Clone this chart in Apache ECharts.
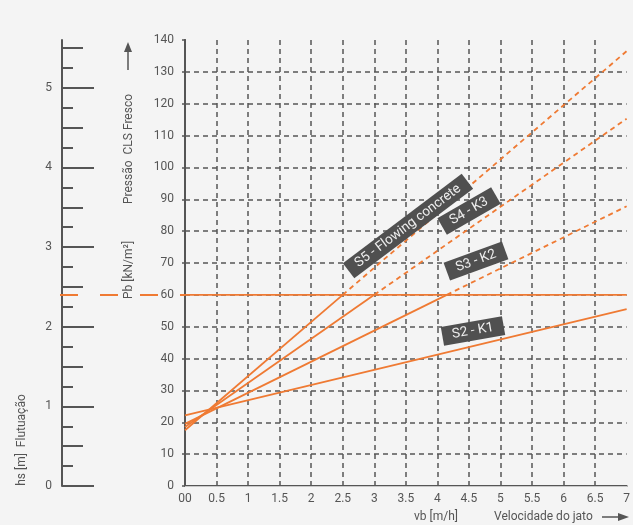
<!DOCTYPE html>
<html><head><meta charset="utf-8">
<script src="https://cdn.jsdelivr.net/npm/echarts@6/dist/echarts.min.js"></script>
<style>html,body{margin:0;padding:0;background:#f4f4f4}#c{width:633px;height:525px}</style>
</head><body><div id="c"></div>
<script>
// ---- data ----
const xTickLabels = ['00','0.5','1','1.5','2','2.5','3','3.5','4','4.5','5','5.5','6','6.5','7'];
const hsMajor = [0, 1, 2, 3, 4, 5];
const hsMedium = [0.5, 1.5, 2.5, 3.5, 4.5, 5.5];
const hsMinor = [0.25, 0.75, 1.25, 1.75, 2.25, 2.75, 3.25, 3.75, 4.25, 4.75, 5.25];
const hsLevel = 2.4;
const pbLimit = [[0, 60], [7, 60]];
const s2K1Solid = [[0, 22.2], [7, 55.5]];
const s3K2Solid = [[0, 19.5], [4.15, 60]];
const s3K2Dashed = [[4.15, 60], [7, 87.8]];
const s4K3Solid = [[0, 18.5], [3.0, 60]];
const s4K3Dashed = [[3.0, 60], [7, 115.3]];
const s5Solid = [[0, 17.5], [2.5, 60]];
const s5Dashed = [[2.5, 60], [7, 136.5]];
const lineLabels = ['S5 - Flowing concrete', 'S4 - K3', 'S3 - K2', 'S2 - K1'];

// ---- styles ----
const ORANGE = '#ef7a33';
const GRAY = '#555555';
const FONT = 'Roboto, "DejaVu Sans", sans-serif';

const chart = echarts.init(document.getElementById('c'));

function seg(name, data, dashed) {
  return {
    name, type: 'line', data, xAxisIndex: 0, yAxisIndex: 0,
    symbol: 'none', silent: true, z: 5,
    lineStyle: { color: ORANGE, width: 1.8, type: dashed ? [5, 4] : 'solid' }
  };
}

function hsAxis(ticks, len, labels) {
  return {
    type: 'value', gridIndex: 1, position: 'left', offset: -2,
    min: 0, max: 5.6, interval: 0.25,
    axisLine: { show: !!labels, lineStyle: { color: GRAY, width: 2 } },
    axisTick: { show: true, inside: true, length: len, customValues: ticks,
      lineStyle: { color: GRAY, width: 2 } },
    axisLabel: labels ? { show: true, customValues: ticks, margin: 10,
      color: GRAY, fontSize: 12, fontFamily: FONT } : { show: false },
    splitLine: { show: false }
  };
}

function rotText(text, x, y, deg, extra) {
  return Object.assign({
    type: 'text', x, y, rotation: deg * Math.PI / 180, silent: true,
    style: { text, fill: GRAY, font: '12px ' + FONT, align: 'center', verticalAlign: 'middle' }
  }, extra || {});
}

function boxLabel(text, x, y, deg) {
  return {
    type: 'text', x, y, rotation: deg * Math.PI / 180, silent: true, z: 20,
    style: { text, fill: '#eeeeee', font: '13.5px ' + FONT, align: 'center', verticalAlign: 'middle',
      backgroundColor: '#505050', padding: [3, 10, 2, 10] }
  };
}

const option = {
  backgroundColor: '#f4f4f4',
  animation: false,
  grid: [
    { left: 185, right: 2, top: 40, bottom: 39 },
    { left: 60, width: 125, top: 40, bottom: 39 }
  ],
  xAxis: [
    { type: 'value', gridIndex: 0, min: 0, max: 7, interval: 0.5,
      axisLine: { onZero: false, lineStyle: { color: GRAY, width: 2 } },
      axisTick: { show: false },
      axisLabel: { color: GRAY, fontSize: 12, fontFamily: FONT, margin: 7,
        formatter: v => xTickLabels[Math.round(v * 2)] },
      splitLine: { show: true, showMinLine: false, showMaxLine: false,
        lineStyle: { color: GRAY, width: 1.5, type: [5, 4] } } },
    { type: 'value', gridIndex: 0, position: 'top', min: 0, max: 7,
      axisLine: { show: true, lineStyle: { color: '#c8c8c8', width: 1 } },
      axisTick: { show: false }, axisLabel: { show: false }, splitLine: { show: false } },
    { type: 'value', gridIndex: 1, min: 0, max: 1, show: false }
  ],
  yAxis: [
    { type: 'value', gridIndex: 0, min: 0, max: 140, interval: 10,
      axisLine: { show: true, onZero: false, lineStyle: { color: GRAY, width: 2 } },
      axisTick: { show: true, length: 3, lineStyle: { color: GRAY, width: 1.5 } },
      axisLabel: { color: GRAY, fontSize: 12, fontFamily: FONT, margin: 11 },
      splitLine: { show: true, showMinLine: false, showMaxLine: false,
        lineStyle: { color: GRAY, width: 1.5, type: [5, 4] } } },
    { type: 'value', gridIndex: 0, position: 'right', min: 0, max: 140,
      axisLine: { show: true, lineStyle: { color: GRAY, width: 2 } },
      axisTick: { show: false }, axisLabel: { show: false }, splitLine: { show: false } },
    hsAxis(hsMajor, 32, true),
    hsAxis(hsMedium, 21, false),
    hsAxis(hsMinor, 11, false)
  ],
  series: [
    {
      name: 'hs level', type: 'line', xAxisIndex: 2, yAxisIndex: 2, data: [],
      silent: true,
      markLine: { symbol: 'none', silent: true, label: { show: false },
        lineStyle: { color: ORANGE, width: 1.8, type: [18, 22] },
        data: [{ yAxis: hsLevel }] }
    },
    seg('Pb limit', pbLimit, false),
    seg('S2 - K1', s2K1Solid, false),
    seg('S3 - K2', s3K2Solid, false),
    seg('S3 - K2 ext', s3K2Dashed, true),
    seg('S4 - K3', s4K3Solid, false),
    seg('S4 - K3 ext', s4K3Dashed, true),
    seg('S5', s5Solid, false),
    seg('S5 ext', s5Dashed, true)
  ],
  graphic: [
    rotText('Pressão  CLS Fresco', 129, 149, 90),
    rotText('Pb [kN/m²]', 129, 270, 90),
    rotText('hs [m]  Flutuação', 22, 440, 90),
    { type: 'line', silent: true, shape: { x1: 128, y1: 70, x2: 128, y2: 50 },
      style: { stroke: GRAY, lineWidth: 1.5 } },
    { type: 'polygon', silent: true, shape: { points: [[124, 52], [132, 52], [128, 42]] },
      style: { fill: GRAY } },
    rotText('vb [m/h]', 436, 517, 0),
    { type: 'text', x: 494, y: 517, silent: true,
      style: { text: 'Velocidade do jato', fill: GRAY, font: '12px ' + FONT, align: 'left', verticalAlign: 'middle' } },
    { type: 'line', silent: true, shape: { x1: 602, y1: 517, x2: 620, y2: 517 },
      style: { stroke: GRAY, lineWidth: 1.5 } },
    { type: 'polygon', silent: true, shape: { points: [[618, 513], [618, 521], [629, 517]] },
      style: { fill: GRAY } },
    boxLabel(lineLabels[0], 408, 226, 37),
    boxLabel(lineLabels[1], 469, 211, 30),
    boxLabel(lineLabels[2], 476, 261, 20),
    boxLabel(lineLabels[3], 473, 331, 10)
  ]
};
chart.setOption(option);
</script></body></html>
